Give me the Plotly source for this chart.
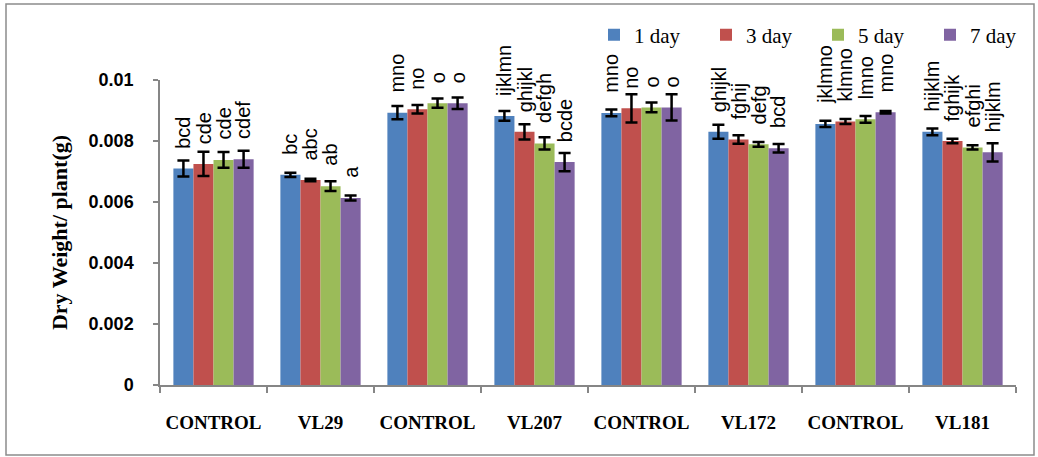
import plotly.graph_objects as go

# Strain groups along the x axis
groups = ["CONTROL", "VL29", "CONTROL", "VL207", "CONTROL", "VL172", "CONTROL", "VL181"]
series_names = ["1 day", "3 day", "5 day", "7 day"]
colors = ["#4F81BD", "#C0504D", "#9BBB59", "#8064A2"]

# Mean dry weight per plant (g)
day1 = [0.00710, 0.00689, 0.00893, 0.00882, 0.00892, 0.00830, 0.00856, 0.00830]
day3 = [0.00725, 0.00672, 0.00904, 0.00830, 0.00907, 0.00805, 0.00864, 0.00800]
day5 = [0.00738, 0.00652, 0.00924, 0.00792, 0.00910, 0.00789, 0.00871, 0.00779]
day7 = [0.00740, 0.00613, 0.00924, 0.00731, 0.00910, 0.00776, 0.00894, 0.00763]

# Standard errors
err1 = [0.00026, 0.00007, 0.00022, 0.00016, 0.00011, 0.00023, 0.00010, 0.00011]
err3 = [0.00040, 0.00004, 0.00014, 0.00025, 0.00046, 0.00014, 0.00008, 0.00007]
err5 = [0.00026, 0.00016, 0.00015, 0.00020, 0.00016, 0.00008, 0.00011, 0.00007]
err7 = [0.00028, 0.00008, 0.00019, 0.00030, 0.00043, 0.00014, 0.00004, 0.00030]

# Significance letters
let1 = ["bcd", "bc", "mno", "ijklmn", "mno", "ghijkl", "jklmno", "hijklm"]
let3 = ["cde", "abc", "no", "ghijkl", "no", "fghij", "klmno", "fghijk"]
let5 = ["cde", "ab", "o", "defgh", "o", "defg", "lmno", "efghi"]
let7 = ["cdef", "a", "o", "bcde", "o", "bcd", "mno", "hijklm"]

y_ticks = [0, 0.002, 0.004, 0.006, 0.008, 0.01]
y_tick_text = ["0", "0.002", "0.004", "0.006", "0.008", "0.01"]

values = [day1, day3, day5, day7]
errors = [err1, err3, err5, err7]
letters = [let1, let3, let5, let7]

xpos = list(range(len(groups)))
bargap = 0.25
bar_w = (1 - bargap) / len(series_names)

fig = go.Figure()
for k, name in enumerate(series_names):
    fig.add_trace(go.Bar(
        x=xpos, y=values[k], name=name,
        marker=dict(color=colors[k], line=dict(width=0)),
        error_y=dict(type="data", array=errors[k], visible=True,
                     color="black", thickness=2.5, width=6),
    ))

annotations = []
for k in range(len(series_names)):
    off = (k - (len(series_names) - 1) / 2) * bar_w
    for i, v in enumerate(values[k]):
        annotations.append(dict(
            x=i + off, y=v, xref="x", yref="y",
            text=letters[k][i], textangle=-90, showarrow=False,
            xanchor="center", yanchor="bottom", yshift=18,
            font=dict(family="Liberation Sans", size=20, color="black"),
        ))

fig.update_layout(
    width=1038, height=457,
    margin=dict(l=160, r=22, t=80, b=72, autoexpand=False),
    paper_bgcolor="white", plot_bgcolor="white",
    barmode="group", bargap=bargap, bargroupgap=0,
    showlegend=True,
    legend=dict(orientation="h", x=(594 - 160) / 856, xanchor="left",
                y=(385 - 35) / 305, yanchor="middle",
                entrywidth=67, entrywidthmode="pixels",
                font=dict(family="Liberation Serif", size=21, color="black"),
                bgcolor="rgba(0,0,0,0)", itemclick=False),
    annotations=annotations,
    shapes=[dict(type="rect", xref="paper", yref="paper",
                 x0=(6 - 160) / 856, x1=(1034 - 160) / 856,
                 y0=(385 - 455) / 305, y1=(385 - 4) / 305,
                 line=dict(color="#8c8c8c", width=1.5), fillcolor="rgba(0,0,0,0)",
                 layer="below")],
)

fig.update_xaxes(
    range=[-0.5, len(groups) - 0.5],
    tickvals=xpos, ticktext=groups, ticks="", showgrid=False, zeroline=False,
    showline=True, linecolor="#868686", linewidth=1.5,
    tickfont=dict(family="Liberation Serif", size=19, color="black", weight="bold"),
    ticklabelstandoff=19,
    minor=dict(tickmode="array", tickvals=[x - 0.5 for x in range(len(groups) + 1)],
               ticks="outside", ticklen=6, tickcolor="#868686", tickwidth=1.5),
)

fig.update_yaxes(
    range=[0, 0.01], tickvals=y_ticks, ticktext=y_tick_text,
    ticks="outside", ticklen=5, tickcolor="#868686", tickwidth=1.5,
    showgrid=False, zeroline=False,
    showline=True, linecolor="#868686", linewidth=1.5,
    tickfont=dict(family="Liberation Sans", size=18, color="black", weight="bold"),
    ticklabelstandoff=16,
    title=dict(text="Dry Weight/ plant(g)", standoff=15,
               font=dict(family="Liberation Serif", size=22, color="black", weight="bold")),
)

fig.write_html("out.html")
